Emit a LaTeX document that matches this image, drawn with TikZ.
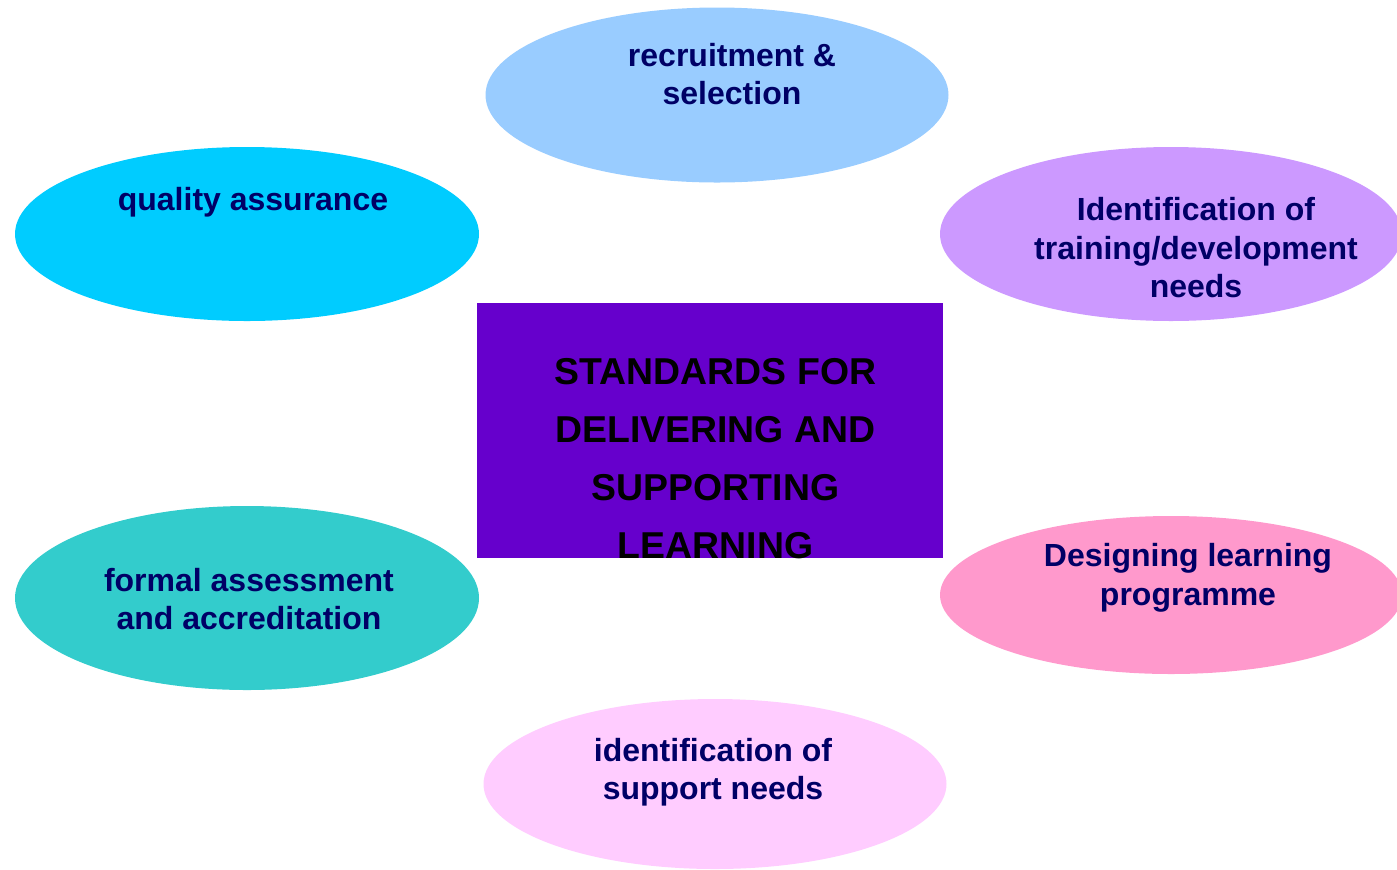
\documentclass[tikz,border=0pt]{standalone}
\usepackage{fontspec}
\setmainfont{Liberation Sans}
\usetikzlibrary{shapes.geometric}
\definecolor{navytext}{HTML}{000066}
\definecolor{recblue}{HTML}{99CCFF}
\definecolor{qacyan}{HTML}{00CCFF}
\definecolor{idlilac}{HTML}{CC99FF}
\definecolor{corepurple}{HTML}{6600CC}
\definecolor{formalteal}{HTML}{33CCCC}
\definecolor{designpink}{HTML}{FF99CC}
\definecolor{supportpink}{HTML}{FFCCFF}
\tikzset{
  bubble/.style={ellipse, inner sep=0pt, draw=none},
  bubbletext/.style={text=navytext, inner sep=0pt, align=center,
    font=\bfseries\fontsize{16}{19.25}\selectfont},
}
\begin{document}
\begin{tikzpicture}[x=0.5pt,y=-0.5pt]
      \useasboundingbox (0,0) rectangle (1397,869);
      \clip (0,0) rectangle (1397,869);
      % the six ovals
      \path
        (717,95) node[bubble, fill=recblue, minimum width=231.5pt, minimum height=87.5pt] (recruit){}
        (247,234) node[bubble, fill=qacyan, minimum width=232pt, minimum height=87pt] (quality){}
        (1171,234) node[bubble, fill=idlilac, minimum width=231pt, minimum height=87pt] (training){}
        (247,598) node[bubble, fill=formalteal, minimum width=232pt, minimum height=92pt] (formal){}
        (1171,595) node[bubble, fill=designpink, minimum width=231pt, minimum height=79pt] (design){}
        (715,784) node[bubble, fill=supportpink, minimum width=231.5pt, minimum height=85pt] (support){};
      % centre box
      \path (710,430.5) node[fill=corepurple, inner sep=0pt, minimum width=233pt, minimum height=127.5pt] (core){};
      \begin{scope}
        \clip (core.south west) rectangle (core.north east);
        \node[text=black, inner sep=0pt, align=center,
          font=\bfseries\fontsize{18.7}{29}\selectfont] (coretxt) at (715.5,459)
          {STANDARDS FOR\\DELIVERING AND\\SUPPORTING\\LEARNING};
      \end{scope}
      % labels
      \path
        (732,74) node[bubbletext] (recruittxt){recruitment \&\\selection}
        (253,202) node[bubbletext] (qualitytxt){quality assurance}
        (1196,248) node[bubbletext] (trainingtxt){Identification of\\training/development\\needs}
        (249,599) node[bubbletext] (formaltxt){formal assessment\\and accreditation}
        (1188,578) node[bubbletext] (designtxt){Designing learning\\programme}
        (713,772) node[bubbletext] (supporttxt){identification of\\support needs};
\end{tikzpicture}
\end{document}
